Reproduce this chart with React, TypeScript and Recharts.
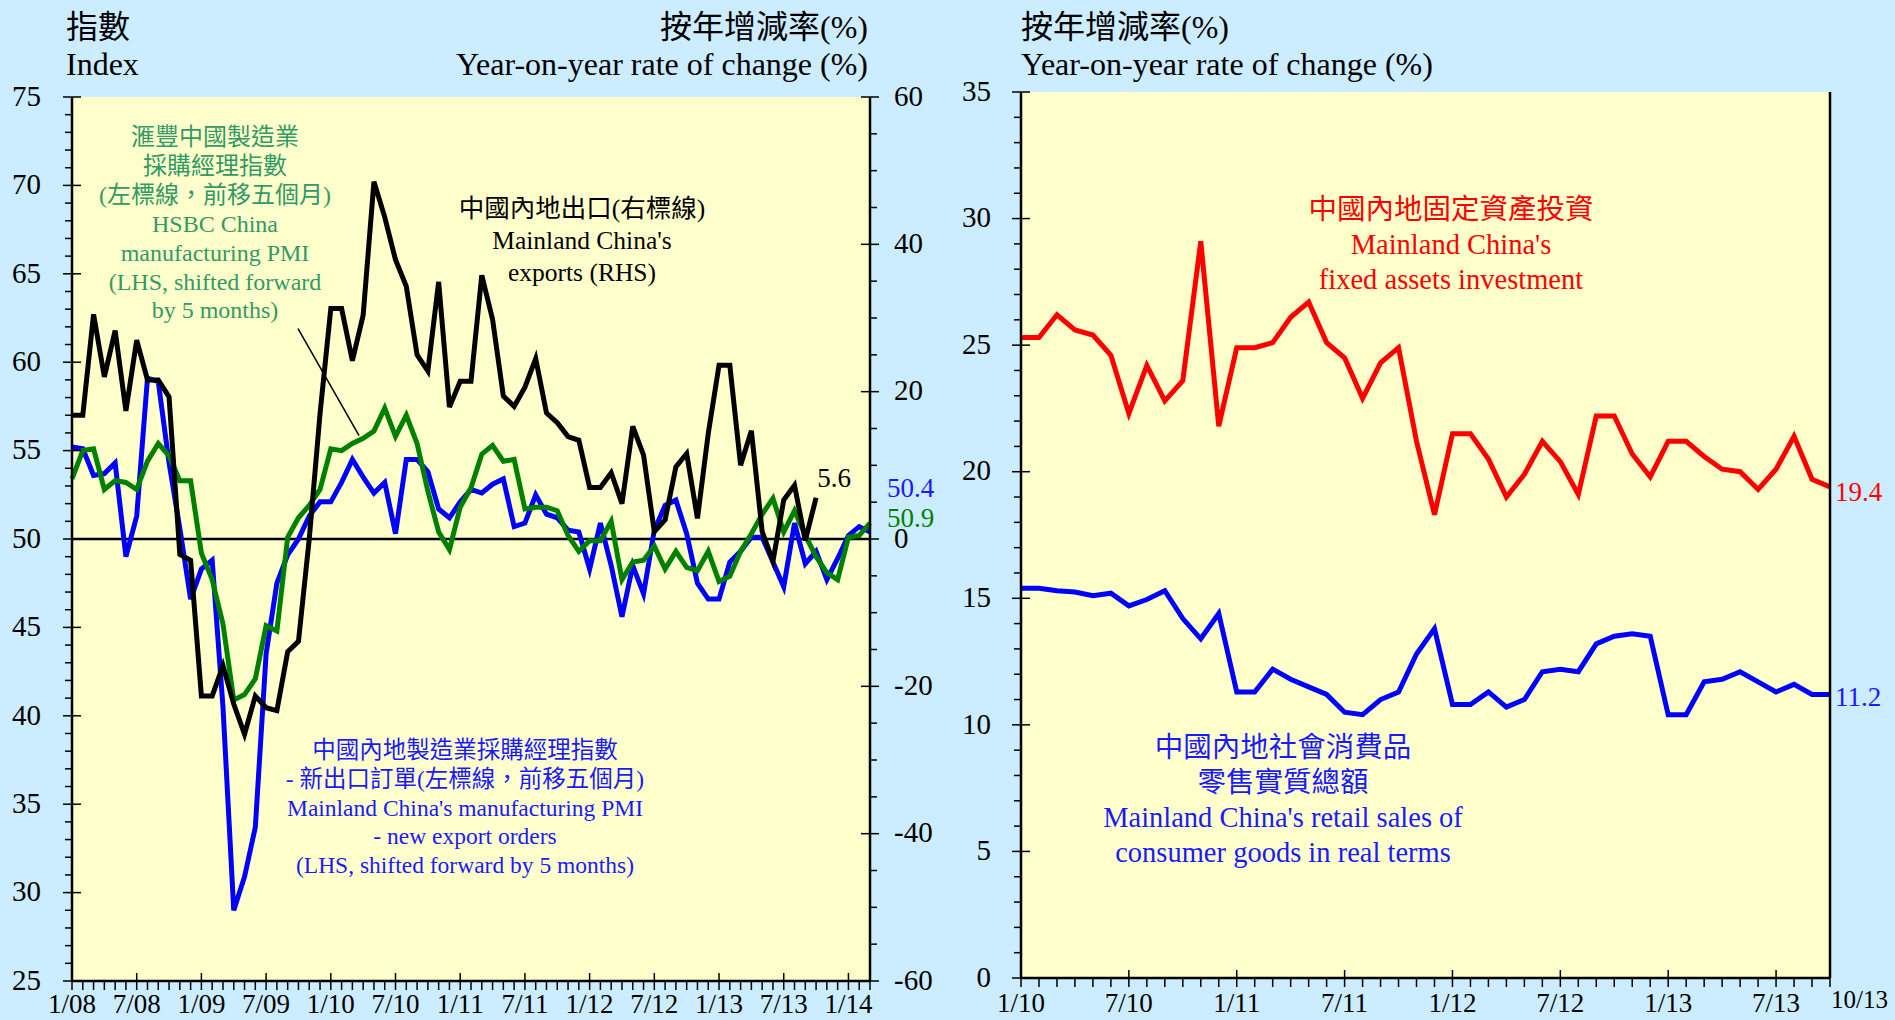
import React from 'react';
import { LineChart, Line, XAxis, YAxis, CartesianGrid, ReferenceLine } from 'recharts';

const FONT = "'Liberation Serif', 'Noto Sans CJK TC', serif";
const PAGE_BG = '#CCECFF';
const PLOT_BG = '#FFFFCC';

// ---- left panel: months 1/08 .. 3/14 (PMI series shifted forward by 5 months)
const leftTickLabels = ['1/08', '7/08', '1/09', '7/09', '1/10', '7/10', '1/11', '7/11', '1/12', '7/12', '1/13', '7/13', '1/14'];

// Mainland China's exports, yoy % (RHS), 1/08 .. 10/13
const chinaExports = [
  16.8, 16.8, 30.5, 22.0, 28.3, 17.4, 27.0, 21.6, 21.6, 19.3, -2.1, -2.9,
  -21.3, -21.3, -17.2, -22.4, -26.5, -21.3, -22.9, -23.3, -15.3, -13.9, 0.0, 17.0,
  31.3, 31.3, 24.2, 30.4, 48.5, 43.7, 37.9, 34.3, 25.0, 22.8, 34.9, 17.9,
  21.4, 21.4, 35.8, 29.8, 19.4, 18.0, 20.6, 24.5, 17.1, 15.8, 13.9, 13.4,
  7.0, 7.0, 9.0, 4.8, 15.3, 11.4, 1.0, 2.6, 9.8, 11.6, 2.8, 14.3,
  23.6, 23.6, 10.0, 14.7, 1.0, -3.0, 5.3, 7.3, -0.2, 5.6,
];

// HSBC China manufacturing PMI (LHS, shifted forward 5 months)
const hsbcPmi = [
  53.4, 55.0, 55.1, 52.8, 53.3, 53.2, 52.8, 54.4, 55.4, 54.7, 53.3, 53.3,
  49.2, 47.7, 45.2, 40.9, 41.2, 42.1, 45.1, 44.8, 50.1, 51.2, 51.9, 52.8,
  55.1, 55.0, 55.4, 55.7, 56.1, 57.4, 55.8, 57.0, 55.4, 52.7, 50.4, 49.4,
  51.8, 52.9, 54.8, 55.3, 54.4, 54.5, 51.7, 51.8, 51.8, 51.6, 50.2, 49.3,
  49.9, 49.9, 51.0, 47.7, 48.7, 48.8, 49.6, 48.3, 49.3, 48.4, 48.2, 49.3,
  47.6, 47.9, 49.3, 50.3, 51.4, 52.3, 50.4, 51.6, 50.2, 49.0, 48.1, 47.7,
  50.1, 50.2, 50.9,
];

// Mainland China's manufacturing PMI - new export orders (LHS, shifted forward 5 months)
const nbsExportOrders = [
  55.2, 55.1, 53.6, 53.7, 54.3, 49.0, 51.3, 59.1, 58.9, 54.3, 50.6, 46.6,
  48.3, 48.8, 40.5, 29.0, 30.9, 33.7, 43.5, 47.5, 49.1, 50.0, 51.3, 52.1,
  52.1, 53.2, 54.5, 53.5, 52.6, 53.2, 50.3, 54.5, 54.5, 53.8, 51.7, 51.2,
  52.1, 52.8, 52.6, 53.1, 53.4, 50.7, 50.9, 52.5, 51.4, 51.2, 50.5, 50.4,
  48.3, 50.9, 48.5, 45.6, 48.5, 46.9, 50.5, 51.9, 52.2, 50.3, 47.5, 46.6,
  46.6, 48.7, 49.3, 50.1, 50.1, 48.7, 47.3, 50.9, 48.6, 49.3, 47.7, 48.9,
  50.2, 50.7, 50.4,
];

// ---- right panel: months 1/10 .. 10/13
const rightTickLabels = ['1/10', '7/10', '1/11', '7/11', '1/12', '7/12', '1/13', '7/13'];
const rightEndLabel = '10/13';

const fixedAssetsInvestment = [
  25.3, 25.3, 26.2, 25.6, 25.4, 24.6, 22.3, 24.2, 22.8, 23.6, 29.1, 21.8,
  24.9, 24.9, 25.1, 26.1, 26.7, 25.1, 24.5, 22.9, 24.3, 24.9, 21.2, 18.3,
  21.5, 21.5, 20.5, 19.0, 19.9, 21.2, 20.4, 19.1, 22.2, 22.2, 20.7, 19.8,
  21.2, 21.2, 20.6, 20.1, 20.0, 19.3, 20.1, 21.4, 19.7, 19.4,
];

const retailSalesReal = [
  15.4, 15.4, 15.3, 15.25, 15.1, 15.2, 14.7, 14.95, 15.3, 14.2, 13.4, 14.4,
  11.3, 11.3, 12.2, 11.8, 11.5, 11.2, 10.5, 10.4, 11.0, 11.3, 12.8, 13.8,
  10.8, 10.8, 11.3, 10.7, 11.0, 12.1, 12.2, 12.1, 13.2, 13.5, 13.6, 13.5,
  10.4, 10.4, 11.7, 11.8, 12.1, 11.7, 11.3, 11.6, 11.2, 11.2,
];

// leader line from the HSBC label to its curve (month index, index value)
const hsbcLeader = [{ x: 20.96, y: 61.9 }, { x: 26.62, y: 55.85 }];

const range = (a: number, b: number, step = 1) => {
  const r: number[] = [];
  for (let v = a; v <= b; v += step) r.push(v);
  return r;
};

const leftRows = hsbcPmi.map((v, i) => ({
  m: i,
  hsbc: v,
  nbs: nbsExportOrders[i],
  exports: i < chinaExports.length ? chinaExports[i] : null,
}));

const rightRows = fixedAssetsInvestment.map((v, i) => ({ m: i, fai: v, retail: retailSalesReal[i] }));

const AXIS = { stroke: '#000', strokeWidth: 2.5 };

// ticks: minor ticks outside, major ticks crossing the axis
const yTickLeft = (gap: number, majorEvery: number) => (p: any) => {
  const { x, y, payload } = p;
  const v = payload.value;
  const ax = x + gap;
  const major = v % majorEvery === 0;
  return (
    <g>
      <line x1={ax - (major ? 9 : 7)} x2={ax + (major ? 9 : 0)} y1={y} y2={y} stroke="#000" strokeWidth={1.5} />
      {major && (
        <text x={x} y={y} dy="0.3em" textAnchor="end" fontSize={29} fontFamily={FONT} fill="#000">{v}</text>
      )}
    </g>
  );
};

const yTickRight = (gap: number, majorEvery: number) => (p: any) => {
  const { x, y, payload } = p;
  const v = payload.value;
  const ax = x - gap;
  const major = v % majorEvery === 0;
  return (
    <g>
      <line x1={ax - (major ? 9 : 0)} x2={ax + (major ? 9 : 7)} y1={y} y2={y} stroke="#000" strokeWidth={1.5} />
      {major && (
        <text x={x} y={y} dy="0.3em" textAnchor="start" fontSize={29} fontFamily={FONT} fill="#000">{v}</text>
      )}
    </g>
  );
};

const xTick = (gap: number, labels: string[], endAt?: number, endLabel?: string) => (p: any) => {
  const { x, y, payload } = p;
  const m = payload.value;
  const ay = y - gap;
  const major = m % 6 === 0;
  const label: string | null = major ? labels[m / 6] ?? null : null;
  const isEnd = endAt !== undefined && m === endAt;
  return (
    <g>
      <line x1={x} x2={x} y1={ay - (major ? 8 : 0)} y2={ay + 9} stroke="#000" strokeWidth={1.5} />
      {label && (
        <text x={x} y={y} dy="0.35em" textAnchor="middle" fontSize={27} fontFamily={FONT} fill="#000">{label}</text>
      )}
      {isEnd && endLabel && (
        <text x={x + 1} y={y - 4} dy="0.35em" textAnchor="start" fontSize={25} fontFamily={FONT} fill="#000">{endLabel}</text>
      )}
    </g>
  );
};

const endLabel = (lastIndex: number, dx: number, dy: number, fill: string, anchor: string) => (p: any) => {
  if (p.index !== lastIndex || p.value == null) return null;
  const x = p.x ?? p.viewBox?.x;
  const y = p.y ?? p.viewBox?.y;
  return (
    <text x={x + dx} y={y + dy} dy="0.35em" textAnchor={anchor} fontSize={27} fontFamily={FONT} fill={fill}>
      {Number(p.value).toFixed(1)}
    </text>
  );
};

const Txt = ({ x, y, size, fill = '#000', anchor = 'middle', children }: any) => (
  <text x={x} y={y} fontSize={size} fill={fill} textAnchor={anchor} dominantBaseline="central" fontFamily={FONT}>
    {children}
  </text>
);

const Block = ({ x, y, step, size, fill, lines }: any) => (
  <g>
    {lines.map((s: string, i: number) => (
      <Txt key={i} x={x} y={y + i * step} size={size} fill={fill}>{s}</Txt>
    ))}
  </g>
);

const LeftPanel = () => (
  <LineChart width={960} height={1020} data={leftRows} margin={{ top: 97, right: 0, bottom: 0, left: 0 }}>
    <CartesianGrid xAxisId="m" yAxisId="pmi" fill={PLOT_BG} horizontal={false} vertical={false} />
    <XAxis
      xAxisId="m"
      dataKey="m"
      type="number"
      domain={[0, 74]}
      ticks={range(0, 74)}
      interval={0}
      height={39}
      tickSize={0}
      tickMargin={23}
      tickLine={false}
      axisLine={AXIS}
      tick={xTick(23, leftTickLabels)}
    />
    <XAxis xAxisId="top" orientation="top" height={0} tick={false} tickLine={false} axisLine={AXIS} />
    <YAxis
      yAxisId="pmi"
      width={72}
      domain={[25, 75]}
      ticks={range(25, 75)}
      interval={0}
      tickSize={0}
      tickMargin={31}
      tickLine={false}
      axisLine={AXIS}
      tick={yTickLeft(31, 5)}
    />
    <YAxis
      yAxisId="rhs"
      orientation="right"
      width={90}
      domain={[-60, 60]}
      ticks={range(-60, 60, 5)}
      interval={0}
      tickSize={0}
      tickMargin={24}
      tickLine={false}
      axisLine={AXIS}
      tick={yTickRight(24, 20)}
    />
    <ReferenceLine xAxisId="m" yAxisId="rhs" y={0} stroke="#000" strokeWidth={2.5} />
    <ReferenceLine xAxisId="m" yAxisId="pmi" segment={hsbcLeader} stroke="#000" strokeWidth={1.5} />
    <Line
      xAxisId="m"
      yAxisId="pmi"
      dataKey="nbs"
      stroke="#0000FF"
      strokeWidth={5}
      dot={false}
      activeDot={false}
      isAnimationActive={false}
      label={endLabel(nbsExportOrders.length - 1, 17, -44, '#1a1aff', 'start')}
    />
    <Line
      xAxisId="m"
      yAxisId="pmi"
      dataKey="hsbc"
      stroke="#008000"
      strokeWidth={5}
      dot={false}
      activeDot={false}
      isAnimationActive={false}
      label={endLabel(hsbcPmi.length - 1, 17, -6, '#008000', 'start')}
    />
    <Line
      xAxisId="m"
      yAxisId="rhs"
      dataKey="exports"
      stroke="#000"
      strokeWidth={5}
      dot={false}
      activeDot={false}
      isAnimationActive={false}
      label={endLabel(chinaExports.length - 1, 18, -20, '#000', 'middle')}
    />
  </LineChart>
);

const RightPanel = () => (
  <LineChart width={935} height={1020} data={rightRows} margin={{ top: 92, right: 0, bottom: 0, left: 0 }}>
    <CartesianGrid xAxisId="m" yAxisId="pct" fill={PLOT_BG} horizontal={false} vertical={false} />
    <XAxis
      xAxisId="m"
      dataKey="m"
      type="number"
      domain={[0, 45]}
      ticks={range(0, 45)}
      interval={0}
      height={42}
      tickSize={0}
      tickMargin={25}
      tickLine={false}
      axisLine={AXIS}
      tick={xTick(25, rightTickLabels, 45, rightEndLabel)}
    />
    <XAxis xAxisId="top" orientation="top" height={0} tick={false} tickLine={false} axisLine={AXIS} />
    <YAxis
      yAxisId="pct"
      width={61}
      domain={[0, 35]}
      ticks={range(0, 35)}
      interval={0}
      tickSize={0}
      tickMargin={30}
      tickLine={false}
      axisLine={AXIS}
      tick={yTickLeft(30, 5)}
    />
    <YAxis yAxisId="border" orientation="right" width={65} domain={[0, 1]} tick={false} tickLine={false} axisLine={AXIS} />
    <Line
      xAxisId="m"
      yAxisId="pct"
      dataKey="fai"
      stroke="#FF0000"
      strokeWidth={5}
      dot={false}
      activeDot={false}
      isAnimationActive={false}
      label={endLabel(fixedAssetsInvestment.length - 1, 5, 5, '#FF0000', 'start')}
    />
    <Line
      xAxisId="m"
      yAxisId="pct"
      dataKey="retail"
      stroke="#0000FF"
      strokeWidth={5}
      dot={false}
      activeDot={false}
      isAnimationActive={false}
      label={endLabel(retailSalesReal.length - 1, 5, 2, '#1a1aff', 'start')}
    />
  </LineChart>
);

const Annotations = () => (
  <svg width={1895} height={1020} style={{ position: 'absolute', left: 0, top: 0, pointerEvents: 'none' }}>
    {/* axis titles */}
    <Txt x={66} y={27} size={32} anchor="start">指數</Txt>
    <Txt x={66} y={64} size={32} anchor="start">Index</Txt>
    <Txt x={868} y={27} size={32} anchor="end">按年增減率(%)</Txt>
    <Txt x={868} y={64} size={32} anchor="end">Year-on-year rate of change (%)</Txt>
    <Txt x={1021} y={27} size={32} anchor="start">按年增減率(%)</Txt>
    <Txt x={1021} y={64} size={32} anchor="start">Year-on-year rate of change (%)</Txt>

    {/* series labels */}
    <Block
      x={215}
      y={137}
      step={28.9}
      size={24}
      fill="#339966"
      lines={['滙豐中國製造業', '採購經理指數', '(左標線，前移五個月)', 'HSBC China', 'manufacturing PMI', '(LHS, shifted forward', 'by 5 months)']}
    />
    <Block x={582} y={208.5} step={32.2} size={25.5} fill="#000" lines={['中國內地出口(右標線)', "Mainland China's", 'exports (RHS)']} />
    <Block
      x={465}
      y={750}
      step={28.8}
      size={23.5}
      fill="#1a1aff"
      lines={['中國內地製造業採購經理指數', '- 新出口訂單(左標線，前移五個月)', "Mainland China's manufacturing PMI", '- new export orders', '(LHS, shifted forward by 5 months)']}
    />
    <Block x={1451} y={209} step={35.3} size={28.5} fill="#FF0000" lines={['中國內地固定資產投資', "Mainland China's", 'fixed assets investment']} />
    <Block
      x={1283}
      y={747}
      step={35.3}
      size={28.5}
      fill="#1a1aff"
      lines={['中國內地社會消費品', '零售實質總額', "Mainland China's retail sales of", 'consumer goods in real terms']}
    />
  </svg>
);

export default function App() {
  return (
    <div style={{ position: 'absolute', left: 0, top: 0, width: 1895, height: 1020, background: PAGE_BG, overflow: 'hidden' }}>
      <div style={{ position: 'absolute', left: 0, top: 0 }}>
        <LeftPanel />
      </div>
      <div style={{ position: 'absolute', left: 960, top: 0 }}>
        <RightPanel />
      </div>
      <Annotations />
    </div>
  );
}
